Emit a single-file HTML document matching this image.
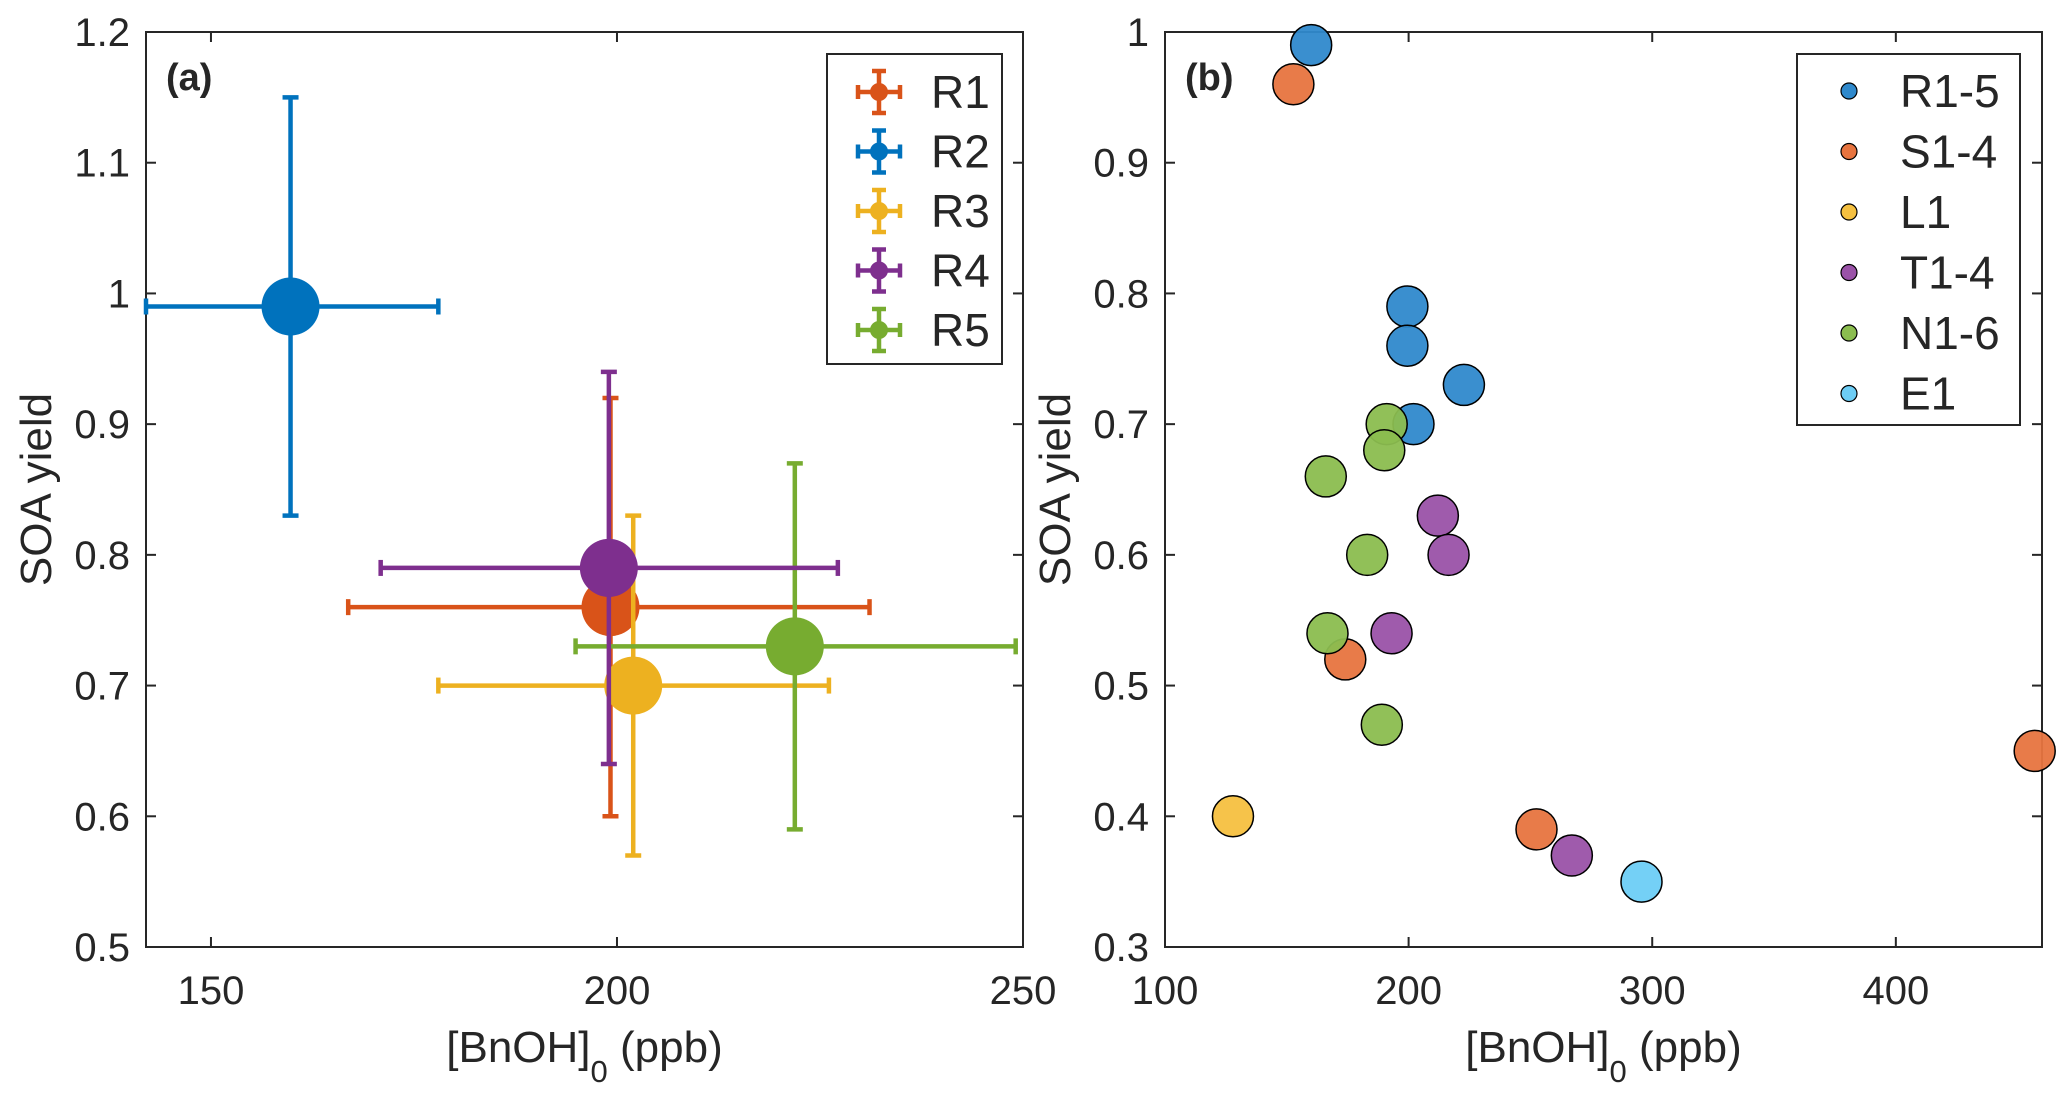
<!DOCTYPE html>
<html><head><meta charset="utf-8"><style>
html,body{margin:0;padding:0;background:#fff;}
svg text{font-family:"Liberation Sans",Arial,sans-serif;fill:#262626;}
</style></head><body>
<svg id="chart" width="2067" height="1104" viewBox="0 0 2067 1104" xmlns="http://www.w3.org/2000/svg">
<g id="pa"></g>
<g id="pb"></g>
</svg>
<script>
// Panel (a) data
const aNames = ["R1","R2","R3","R4","R5"];
const aX = [199.2, 159.8, 202.0, 199.0, 221.9];
const aY = [0.76, 0.99, 0.70, 0.79, 0.73];
const aXlo = [166.9, 142.0, 178.0, 170.9, 194.9];
const aXhi = [231.1, 178.0, 226.1, 227.2, 249.1];
const aYlo = [0.60, 0.83, 0.57, 0.64, 0.59];
const aYhi = [0.92, 1.15, 0.83, 0.94, 0.87];
const aColors = ["#D95319","#0072BD","#EDB120","#7E2F8E","#77AC30"];
const aXTicks = [150, 200, 250];
const aYTicks = [0.5,0.6,0.7,0.8,0.9,1,1.1,1.2];
const aYTickLabels = ["0.5","0.6","0.7","0.8","0.9","1","1.1","1.2"];
const aDrawOrder = [1,0,2,4,3];

// Panel (b) data
const bGroups = ["R1-5","S1-4","L1","T1-4","N1-6","E1"];
const bColors = ["#2f89cc","#e7743f","#f5c040","#9a52a8","#8bbd4f","#6dcdf5"];
const bR_x = [160, 199.5, 199.5, 222.7, 202];
const bR_y = [0.99, 0.79, 0.76, 0.73, 0.70];
const bS_x = [152.7, 174, 252.5, 457];
const bS_y = [0.96, 0.52, 0.39, 0.45];
const bL_x = [127.9];
const bL_y = [0.40];
const bT_x = [212, 216.4, 193, 267];
const bT_y = [0.63, 0.60, 0.54, 0.37];
const bN_x = [191, 190, 166, 183, 166.7, 189];
const bN_y = [0.70, 0.68, 0.66, 0.60, 0.54, 0.47];
const bE_x = [295.6];
const bE_y = [0.35];
const bXTicks = [100, 200, 300, 400];
const bYTicks = [0.3,0.4,0.5,0.6,0.7,0.8,0.9,1];
const bYTickLabels = ["0.3","0.4","0.5","0.6","0.7","0.8","0.9","1"];

const NS = "http://www.w3.org/2000/svg";
function mk(parent, tag, attrs){
  const e = document.createElementNS(NS, tag);
  for (const k in attrs) e.setAttribute(k, attrs[k]);
  parent.appendChild(e);
  return e;
}

function axes(g, L, R, T, B, xmin, xmax, ymin, ymax, xt, yt, ytl, tag){
  const sx = v => L + (v - xmin) / (xmax - xmin) * (R - L);
  const sy = v => B - (v - ymin) / (ymax - ymin) * (B - T);
  const box = mk(g, "rect", {x:L, y:T, width:R-L, height:B-T, fill:"none", stroke:"#262626", "stroke-width":2});
  
  
  xt.forEach(v => {
    const x = sx(v);
    mk(g, "line", {x1:x, x2:x, y1:B, y2:B-10, stroke:"#262626", "stroke-width":2});
    mk(g, "line", {x1:x, x2:x, y1:T, y2:T+10, stroke:"#262626", "stroke-width":2});
    const t = mk(g, "text", {x:x, y:1004, "font-size":40, "text-anchor":"middle"});
    t.textContent = String(v);
    
    
  });
  yt.forEach((v, i) => {
    const y = sy(v);
    mk(g, "line", {x1:L, x2:L+10, y1:y, y2:y, stroke:"#262626", "stroke-width":2});
    mk(g, "line", {x1:R, x2:R-10, y1:y, y2:y, stroke:"#262626", "stroke-width":2});
    const t = mk(g, "text", {x:L-16, y:y+14, "font-size":40, "text-anchor":"end"});
    t.textContent = ytl[i];
    
    
  });
  const cx = (L + R) / 2;
  const xl = mk(g, "text", {x:cx, y:1062, "font-size":44, "text-anchor":"middle"});
  xl.innerHTML = '[BnOH]<tspan font-size="31" dy="20">0</tspan><tspan dy="-20"> (ppb)</tspan>';
  
  
  const yx = L - 95, yy = (T + B) / 2;
  const yl = mk(g, "text", {x:yx, y:yy, "font-size":44, "text-anchor":"middle", transform:`rotate(-90 ${yx} ${yy})`});
  yl.textContent = "SOA yield";
  
  
  const pl = mk(g, "text", {x:L+20, y:T+58, "font-size":38, "font-weight":"bold", fill:"#000"});
  pl.textContent = tag;
  
  
  return {sx, sy};
}

// Panel A
const ga = document.getElementById("pa");
const A = axes(ga, 146, 1023, 32, 947, 142, 250, 0.5, 1.2, aXTicks, aYTicks, aYTickLabels, "(a)");
aDrawOrder.forEach(i => {
  const c = aColors[i];
  const g = mk(ga, "g", {});
  
  
  const x = A.sx(aX[i]), y = A.sy(aY[i]);
  const x1 = A.sx(aXlo[i]), x2 = A.sx(aXhi[i]), y1 = A.sy(aYhi[i]), y2 = A.sy(aYlo[i]);
  const w = 4.5;
  mk(g, "line", {x1:x1, x2:x2, y1:y, y2:y, stroke:c, "stroke-width":w});
  mk(g, "line", {x1:x1, x2:x1, y1:y-8, y2:y+8, stroke:c, "stroke-width":w});
  mk(g, "line", {x1:x2, x2:x2, y1:y-8, y2:y+8, stroke:c, "stroke-width":w});
  mk(g, "line", {x1:x, x2:x, y1:y1, y2:y2, stroke:c, "stroke-width":w});
  mk(g, "line", {x1:x-8, x2:x+8, y1:y1, y2:y1, stroke:c, "stroke-width":w});
  mk(g, "line", {x1:x-8, x2:x+8, y1:y2, y2:y2, stroke:c, "stroke-width":w});
  const m = mk(g, "circle", {cx:x, cy:y, r:29, fill:c});
  
  
});
// Legend A
const la = mk(ga, "g", {});


mk(la, "rect", {x:827, y:54, width:175, height:310, fill:"#fff", stroke:"#262626", "stroke-width":2});
aNames.forEach((n, i) => {
  const y = 92 + i * 59.5, x = 879, c = aColors[i];
  const e = mk(la, "g", {});
  
  
  mk(e, "line", {x1:x-21, x2:x+21, y1:y, y2:y, stroke:c, "stroke-width":4.5});
  mk(e, "line", {x1:x, x2:x, y1:y-21, y2:y+21, stroke:c, "stroke-width":4.5});
  mk(e, "line", {x1:x-21, x2:x-21, y1:y-7, y2:y+7, stroke:c, "stroke-width":4.5});
  mk(e, "line", {x1:x+21, x2:x+21, y1:y-7, y2:y+7, stroke:c, "stroke-width":4.5});
  mk(e, "line", {x1:x-7, x2:x+7, y1:y-21, y2:y-21, stroke:c, "stroke-width":4.5});
  mk(e, "line", {x1:x-7, x2:x+7, y1:y+21, y2:y+21, stroke:c, "stroke-width":4.5});
  mk(e, "circle", {cx:x, cy:y, r:9, fill:c});
  const t = mk(e, "text", {x:931, y:y+16, "font-size":46, fill:"#000"});
  t.textContent = n;
});

// Panel B
const gb = document.getElementById("pb");
const B = axes(gb, 1165, 2042, 32, 947, 100, 460, 0.3, 1.0, bXTicks, bYTicks, bYTickLabels, "(b)");
const bXs = [bR_x, bS_x, bL_x, bT_x, bN_x, bE_x];
const bYs = [bR_y, bS_y, bL_y, bT_y, bN_y, bE_y];
bGroups.forEach((n, gi) => {
  const g = mk(gb, "g", {});
  
  
  bXs[gi].forEach((xv, j) => {
    const c = mk(g, "circle", {cx:B.sx(xv), cy:B.sy(bYs[gi][j]), r:20.5, fill:bColors[gi], "fill-opacity":0.95, stroke:"#000", "stroke-width":1.5});
    
    
  });
});
const lb = mk(gb, "g", {});


mk(lb, "rect", {x:1797, y:54, width:223, height:371, fill:"#fff", stroke:"#262626", "stroke-width":2});
bGroups.forEach((n, i) => {
  const y = 91 + i * 60.5;
  const e = mk(lb, "g", {});
  
  
  mk(e, "circle", {cx:1849, cy:y, r:8, fill:bColors[i], stroke:"#000", "stroke-width":1.2});
  const t = mk(e, "text", {x:1900, y:y+16, "font-size":46, fill:"#000"});
  t.textContent = n;
});
</script>
</body></html>
